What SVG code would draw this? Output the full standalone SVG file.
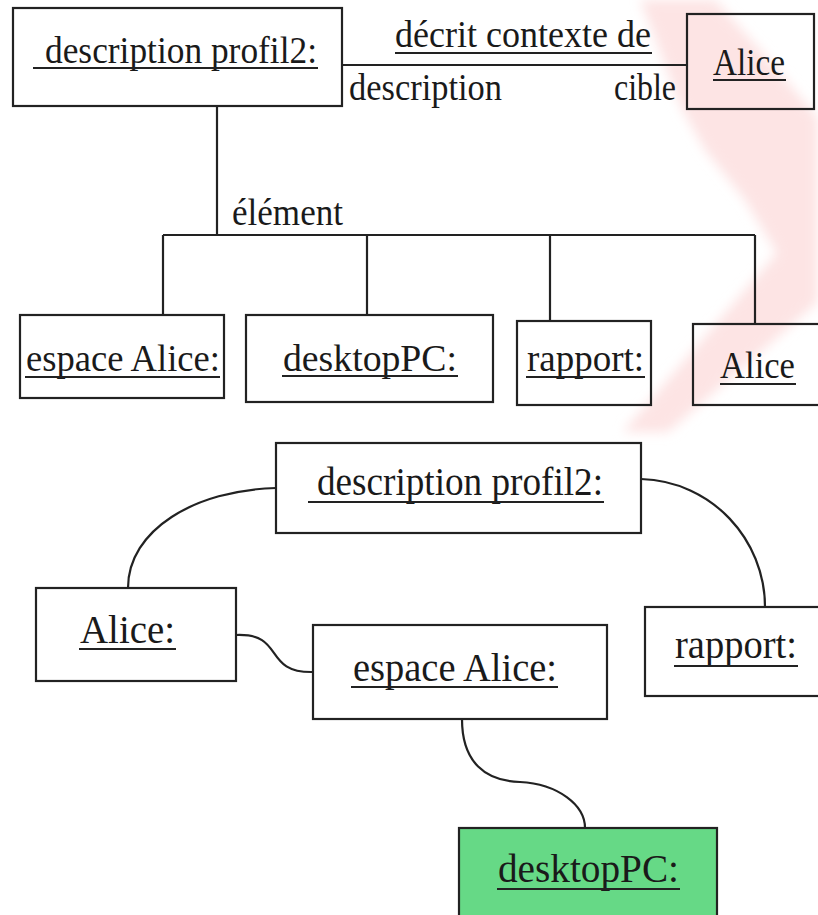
<svg xmlns="http://www.w3.org/2000/svg" width="818" height="915" viewBox="0 0 818 915" font-family="'Liberation Serif', 'DejaVu Serif', serif">
  <defs>
    <filter id="soft" x="-20%" y="-20%" width="140%" height="140%">
      <feGaussianBlur stdDeviation="6"/>
    </filter>
  </defs>
  <style>
    .box { fill: none; stroke: #222; stroke-width: 2.2; }
    .green { fill: #66d986; stroke: #222; stroke-width: 2.2; }
    .wire { fill: none; stroke: #222; stroke-width: 2.2; }
    .ul { stroke: #222; stroke-width: 2; }
    .t { font-family: 'Liberation Serif', 'Times New Roman', serif; font-size: 38px; fill: #1a1a1a; }
    .big { font-size: 40px; }
  </style>

  <rect width="818" height="915" fill="#ffffff"/>

  <!-- pale background chevron -->
  <path d="M640,0 L715,0 L760,50 L818,118 L818,302 L668,432 L623,432 L777,253 L745,200 L705,150 L680,105 L652,30 Z" fill="#fde4e4" filter="url(#soft)"/>

  <!-- connectors -->
  <g id="connectors">
    <line class="wire" x1="342" y1="65" x2="687" y2="65"/>
    <line class="wire" x1="217" y1="106" x2="217" y2="235"/>
    <line class="wire" x1="163" y1="235" x2="755" y2="235"/>
    <line class="wire" x1="163" y1="235" x2="163" y2="315"/>
    <line class="wire" x1="367" y1="235" x2="367" y2="315"/>
    <line class="wire" x1="550" y1="235" x2="550" y2="321"/>
    <line class="wire" x1="755" y1="235" x2="755" y2="324"/>

    <path class="wire" d="M276,488 C195,490 128,530 128,588"/>
    <path class="wire" d="M641,479 C712,481 765,540 765,607"/>
    <path class="wire" d="M236,635 C286,633 262,673 313,672"/>
    <path class="wire" d="M462,719 C462,762 485,781 520,782 C558,784 585,805 585,828"/>

    <!-- association labels -->
    <text class="t" x="395" y="47" textLength="256" lengthAdjust="spacingAndGlyphs">décrit contexte de</text>
    <line class="ul" x1="395" y1="53" x2="652" y2="53"/>
    <text class="t" x="349" y="100" textLength="153" lengthAdjust="spacingAndGlyphs">description</text>
    <text class="t" x="614" y="100" textLength="62" lengthAdjust="spacingAndGlyphs">cible</text>
    <text class="t" x="232" y="225" textLength="111" lengthAdjust="spacingAndGlyphs">élément</text>
  </g>

  <!-- upper diagram -->
  <g id="desc-profil2-top">
    <rect class="box" x="13" y="8" width="329" height="98"/>
    <text class="t" x="45" y="63" textLength="272" lengthAdjust="spacingAndGlyphs">description profil2:</text>
    <line class="ul" x1="33" y1="68" x2="318" y2="68"/>
  </g>
  <g id="alice-target">
    <rect class="box" x="687" y="14" width="127" height="95"/>
    <text class="t" x="713" y="75" textLength="72" lengthAdjust="spacingAndGlyphs">Alice</text>
    <line class="ul" x1="713" y1="80" x2="786" y2="80"/>
  </g>
  <g id="espace-alice-top">
    <rect class="box" x="20" y="315" width="204" height="83"/>
    <text class="t" x="26" y="371" textLength="194" lengthAdjust="spacingAndGlyphs">espace Alice:</text>
    <line class="ul" x1="25" y1="377" x2="220" y2="377"/>
  </g>
  <g id="desktoppc-top">
    <rect class="box" x="246" y="315" width="247" height="87"/>
    <text class="t" x="283" y="371" textLength="174" lengthAdjust="spacingAndGlyphs">desktopPC:</text>
    <line class="ul" x1="282" y1="376" x2="458" y2="376"/>
  </g>
  <g id="rapport-top">
    <rect class="box" x="517" y="321" width="134" height="84"/>
    <text class="t" x="527" y="371" textLength="117" lengthAdjust="spacingAndGlyphs">rapport:</text>
    <line class="ul" x1="526" y1="377" x2="645" y2="377"/>
  </g>
  <g id="alice-element">
    <rect class="box" x="693" y="324" width="130" height="81"/>
    <text class="t" x="720" y="378" textLength="75" lengthAdjust="spacingAndGlyphs">Alice</text>
    <line class="ul" x1="720" y1="384" x2="796" y2="384"/>
  </g>

  <!-- lower diagram -->
  <g id="desc-profil2-bottom">
    <rect class="box" x="276" y="443" width="365" height="90"/>
    <text class="t big" x="317" y="495" textLength="286" lengthAdjust="spacingAndGlyphs">description profil2:</text>
    <line class="ul" x1="308" y1="502" x2="604" y2="502"/>
  </g>
  <g id="alice-bottom">
    <rect class="box" x="36" y="588" width="200" height="93"/>
    <text class="t big" x="80" y="643" textLength="95" lengthAdjust="spacingAndGlyphs">Alice:</text>
    <line class="ul" x1="79" y1="649" x2="176" y2="649"/>
  </g>
  <g id="espace-alice-bottom">
    <rect class="box" x="313" y="625" width="294" height="94"/>
    <text class="t big" x="353" y="681" textLength="204" lengthAdjust="spacingAndGlyphs">espace Alice:</text>
    <line class="ul" x1="351" y1="687" x2="558" y2="687"/>
  </g>
  <g id="rapport-bottom">
    <rect class="box" x="645" y="607" width="180" height="89"/>
    <text class="t big" x="675" y="658" textLength="122" lengthAdjust="spacingAndGlyphs">rapport:</text>
    <line class="ul" x1="674" y1="666" x2="798" y2="666"/>
  </g>
  <g id="desktoppc-bottom">
    <rect class="green" x="459" y="828" width="258" height="95"/>
    <text class="t big" x="498" y="882" textLength="181" lengthAdjust="spacingAndGlyphs">desktopPC:</text>
    <line class="ul" x1="497" y1="889" x2="680" y2="889"/>
  </g>
</svg>
